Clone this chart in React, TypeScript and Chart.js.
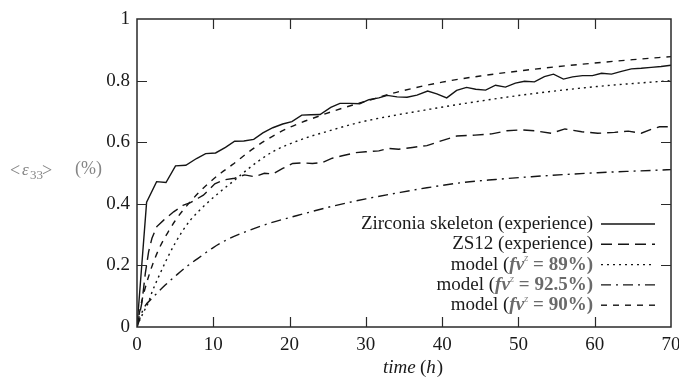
import React, { useEffect, useRef } from "react";
import { Chart, registerables } from "chart.js";
Chart.register(...registerables);

// axis ticks
const xTicks = [0, 10, 20, 30, 40, 50, 60, 70];
const yTicks = [0, 0.2, 0.4, 0.6, 0.8, 1];

// Zirconia skeleton (experience)
const skeletonT = [0, 1.26, 2.57, 3.8, 5.05, 6.4, 7.8, 9.0, 10.3, 11.6, 12.8, 14.0, 15.3, 16.5, 17.8, 19.1, 20.3, 21.6, 22.8, 24.0, 25.4, 26.6, 27.9, 29.2, 30.4, 31.7, 32.8, 34.1, 35.4, 36.7, 38.1, 39.3, 40.6, 41.9, 43.2, 44.4, 45.7, 47.0, 48.3, 49.6, 50.8, 52.1, 53.4, 54.6, 55.9, 57.1, 58.4, 59.7, 60.9, 62.2, 63.5, 64.8, 66.1, 67.4, 68.7, 70];
const skeletonV = [0, 0.405, 0.472, 0.469, 0.523, 0.525, 0.547, 0.563, 0.565, 0.583, 0.603, 0.604, 0.609, 0.630, 0.647, 0.659, 0.667, 0.688, 0.689, 0.690, 0.713, 0.726, 0.726, 0.725, 0.738, 0.744, 0.752, 0.747, 0.746, 0.753, 0.766, 0.757, 0.744, 0.768, 0.778, 0.772, 0.769, 0.785, 0.779, 0.792, 0.798, 0.796, 0.813, 0.821, 0.805, 0.812, 0.816, 0.816, 0.824, 0.821, 0.830, 0.838, 0.840, 0.843, 0.846, 0.850];

// ZS12 (experience)
const zs12T = [0, 0.65, 1.09, 1.52, 1.96, 2.6, 3.5, 4.8, 6.1, 7.0, 8.0, 8.7, 10.2, 11.5, 12.8, 14.1, 15.4, 16.7, 17.8, 19.1, 20.4, 21.7, 23.0, 24.3, 25.6, 26.9, 28.7, 30.0, 31.7, 33.0, 34.3, 36.1, 38.0, 39.6, 41.9, 44.3, 46.5, 48.5, 50.4, 52.2, 54.3, 56.1, 58.3, 60.4, 62.6, 64.4, 66.1, 67.4, 68.5, 70];
const zs12V = [0, 0.08, 0.174, 0.244, 0.288, 0.326, 0.347, 0.374, 0.396, 0.404, 0.418, 0.428, 0.465, 0.478, 0.483, 0.494, 0.488, 0.499, 0.497, 0.515, 0.531, 0.533, 0.531, 0.534, 0.548, 0.556, 0.566, 0.569, 0.572, 0.580, 0.577, 0.583, 0.589, 0.602, 0.620, 0.623, 0.627, 0.637, 0.640, 0.637, 0.629, 0.643, 0.634, 0.629, 0.632, 0.636, 0.629, 0.642, 0.650, 0.650];

// model fv = 89%
const m89T = [0, 0.5, 1, 1.5, 2, 3, 4, 5, 6, 7, 8, 9, 10.7, 12.8, 14.5, 16.1, 18, 20.4, 22.5, 24.8, 29.1, 33.5, 36.5, 43, 51.7, 60.4, 70];
const m89V = [0, 0.03, 0.055, 0.08, 0.115, 0.172, 0.225, 0.272, 0.313, 0.347, 0.374, 0.398, 0.435, 0.477, 0.512, 0.542, 0.572, 0.598, 0.617, 0.634, 0.664, 0.686, 0.699, 0.726, 0.757, 0.781, 0.80];

// model fv = 92.5%
const m925T = [0, 0.87, 2.17, 3.7, 5.2, 6.5, 8, 10, 12, 14.5, 17.4, 21, 25.6, 30, 34.3, 38, 43, 47, 51.7, 56, 60.4, 65, 70];
const m925V = [0, 0.06, 0.098, 0.136, 0.169, 0.196, 0.223, 0.258, 0.286, 0.312, 0.337, 0.362, 0.392, 0.416, 0.436, 0.452, 0.470, 0.479, 0.488, 0.495, 0.501, 0.506, 0.511];

// model fv = 90%
const m90T = [0, 0.5, 1, 2, 3, 4, 5, 6, 8, 9.3, 11, 12.5, 15, 17, 20, 24, 27, 30, 34, 40, 45, 50, 55, 60, 65, 70];
const m90V = [0, 0.07, 0.12, 0.2, 0.26, 0.305, 0.345, 0.378, 0.434, 0.465, 0.5, 0.527, 0.575, 0.608, 0.648, 0.686, 0.711, 0.733, 0.762, 0.795, 0.815, 0.831, 0.845, 0.857, 0.868, 0.878];

const legendPcts = ["", "", "89%", "92.5%", "90%"];
const legendPlain = ["Zirconia skeleton (experience)", "ZS12 (experience)", "model (", "model (", "model ("];

const SERIF = '"Liberation Serif", "DejaVu Serif", serif';
const INK = "#1a1a1a";

const pts = (t: number[], v: number[]) => t.map((x, i) => ({ x, y: v[i] }));

const decor = {
  id: "decor",
  afterDraw(chart: any) {
    const { ctx, chartArea: a, scales } = chart;
    const xs = scales.x;
    const ys = scales.y;
    ctx.save();
    // frame
    ctx.strokeStyle = "#2a2a2a";
    ctx.lineWidth = 1.5;
    ctx.setLineDash([]);
    ctx.strokeRect(a.left, a.top, a.right - a.left, a.bottom - a.top);
    // inward ticks on all sides
    ctx.lineWidth = 1.2;
    const tl = 10;
    ctx.beginPath();
    xTicks.slice(1, -1).forEach((v) => {
      const px = Math.round(xs.getPixelForValue(v)) + 0.5;
      ctx.moveTo(px, a.bottom);
      ctx.lineTo(px, a.bottom - tl);
      ctx.moveTo(px, a.top);
      ctx.lineTo(px, a.top + tl);
    });
    yTicks.slice(1, -1).forEach((v) => {
      const py = Math.round(ys.getPixelForValue(v)) + 0.5;
      ctx.moveTo(a.left, py);
      ctx.lineTo(a.left + tl, py);
      ctx.moveTo(a.right, py);
      ctx.lineTo(a.right - tl, py);
    });
    ctx.stroke();

    // legend
    const ds = chart.data.datasets;
    const textRight = a.right - 78;
    const lineL = a.right - 70;
    const lineR = a.right - 16;
    ctx.textBaseline = "middle";
    ds.forEach((d: any, i: number) => {
      const y = a.top + 205 + i * 20.3;
      // sample line
      ctx.beginPath();
      ctx.strokeStyle = d.borderColor;
      ctx.lineWidth = d.borderWidth;
      ctx.setLineDash(d.borderDash || []);
      ctx.moveTo(lineL, y);
      ctx.lineTo(lineR, y);
      ctx.stroke();
      ctx.setLineDash([]);
      // text
      if (!legendPcts[i]) {
        ctx.font = `19px ${SERIF}`;
        ctx.fillStyle = INK;
        ctx.textAlign = "right";
        ctx.fillText(legendPlain[i], textRight, y);
      } else {
        const segs = [
          { t: legendPlain[i], f: `19px ${SERIF}`, c: INK, dy: 0 },
          { t: "fv", f: `italic bold 19px ${SERIF}`, c: "#6a6a6a", dy: 0 },
          { t: "z", f: `italic 11px ${SERIF}`, c: "#8a8a8a", dy: -6 },
          { t: " = " + legendPcts[i] + ")", f: `bold 19px ${SERIF}`, c: "#6a6a6a", dy: 0 },
        ];
        let w = 0;
        segs.forEach((s) => {
          ctx.font = s.f;
          w += ctx.measureText(s.t).width;
        });
        let x = textRight - w;
        ctx.textAlign = "left";
        segs.forEach((s) => {
          ctx.font = s.f;
          ctx.fillStyle = s.c;
          ctx.fillText(s.t, x, y + s.dy);
          x += ctx.measureText(s.t).width;
        });
      }
    });

    // y axis label (horizontal)
    const yl = 171;
    ctx.textAlign = "left";
    ctx.fillStyle = "#858585";
    ctx.font = `18px ${SERIF}`;
    ctx.fillText("<", 10, yl);
    ctx.font = `italic 17px ${SERIF}`;
    ctx.fillText("ε", 22, yl);
    ctx.font = `13px ${SERIF}`;
    ctx.fillText("33", 30, yl + 5);
    ctx.font = `18px ${SERIF}`;
    ctx.fillText(">", 42, yl);
    ctx.fillText("(%)", 75, yl - 2);

    // x axis title
    const xl = a.bottom + 41;
    ctx.fillStyle = INK;
    ctx.font = `italic 19px ${SERIF}`;
    ctx.fillText("time", a.left + 246, xl);
    let xx = a.left + 283;
    ctx.font = `19px ${SERIF}`;
    ctx.fillText("(", xx, xl);
    xx += ctx.measureText("(").width;
    ctx.font = `italic 19px ${SERIF}`;
    ctx.fillText("h", xx, xl);
    xx += ctx.measureText("h").width + 1;
    ctx.font = `19px ${SERIF}`;
    ctx.fillText(")", xx, xl);
    ctx.restore();
  },
};

export default function App() {
  const ref = useRef<HTMLCanvasElement | null>(null);
  useEffect(() => {
    document.body.style.margin = "0";
    const c = ref.current!;
    const line = (label: string, t: number[], v: number[], dash: number[], smooth: boolean) => ({
      label,
      data: pts(t, v),
      borderColor: "#151515",
      borderWidth: 1.4,
      borderDash: dash,
      pointRadius: 0,
      fill: false,
      cubicInterpolationMode: smooth ? "monotone" : "default",
      tension: 0,
    });
    const chart = new Chart(c, {
      type: "line",
      data: {
        datasets: [
          line("Zirconia skeleton (experience)", skeletonT, skeletonV, [], false),
          line("ZS12 (experience)", zs12T, zs12V, [11, 6], false),
          line("model (fv = 89%)", m89T, m89V, [2, 4], true),
          line("model (fv = 92.5%)", m925T, m925V, [10, 5, 2, 5], true),
          line("model (fv = 90%)", m90T, m90V, [6, 6], true),
        ] as any,
      },
      options: {
        animation: false,
        responsive: false,
        maintainAspectRatio: false,
        layout: { padding: { top: 19, right: 8, left: 0, bottom: 0 } },
        plugins: { legend: { display: false }, tooltip: { enabled: false } },
        scales: {
          x: {
            type: "linear",
            min: 0,
            max: 70,
            afterBuildTicks: (s: any) => {
              s.ticks = xTicks.map((value) => ({ value }));
            },
            grid: { display: false, drawTicks: false },
            border: { display: false },
            ticks: {
              padding: 7,
              color: INK,
              maxRotation: 0,
              autoSkip: false,
              font: { family: SERIF, size: 19 },
            },
            afterFit: (s: any) => {
              s.height = 53;
              s.paddingLeft = 0;
              s.paddingRight = 0;
            },
          },
          y: {
            type: "linear",
            min: 0,
            max: 1,
            afterBuildTicks: (s: any) => {
              s.ticks = yTicks.map((value) => ({ value }));
            },
            grid: { display: false, drawTicks: false },
            border: { display: false },
            ticks: {
              padding: 7,
              color: INK,
              autoSkip: false,
              font: { family: SERIF, size: 19 },
              callback: (v: any) => String(v),
            },
            afterFit: (s: any) => {
              s.width = 137;
              s.paddingTop = 0;
              s.paddingBottom = 0;
            },
          },
        },
      } as any,
      plugins: [decor],
    });
    return () => chart.destroy();
  }, []);
  return (
    <div style={{ width: 679, height: 380, overflow: "hidden", background: "#fff" }}>
      <canvas ref={ref} width={679} height={380} style={{ display: "block" }} />
    </div>
  );
}
